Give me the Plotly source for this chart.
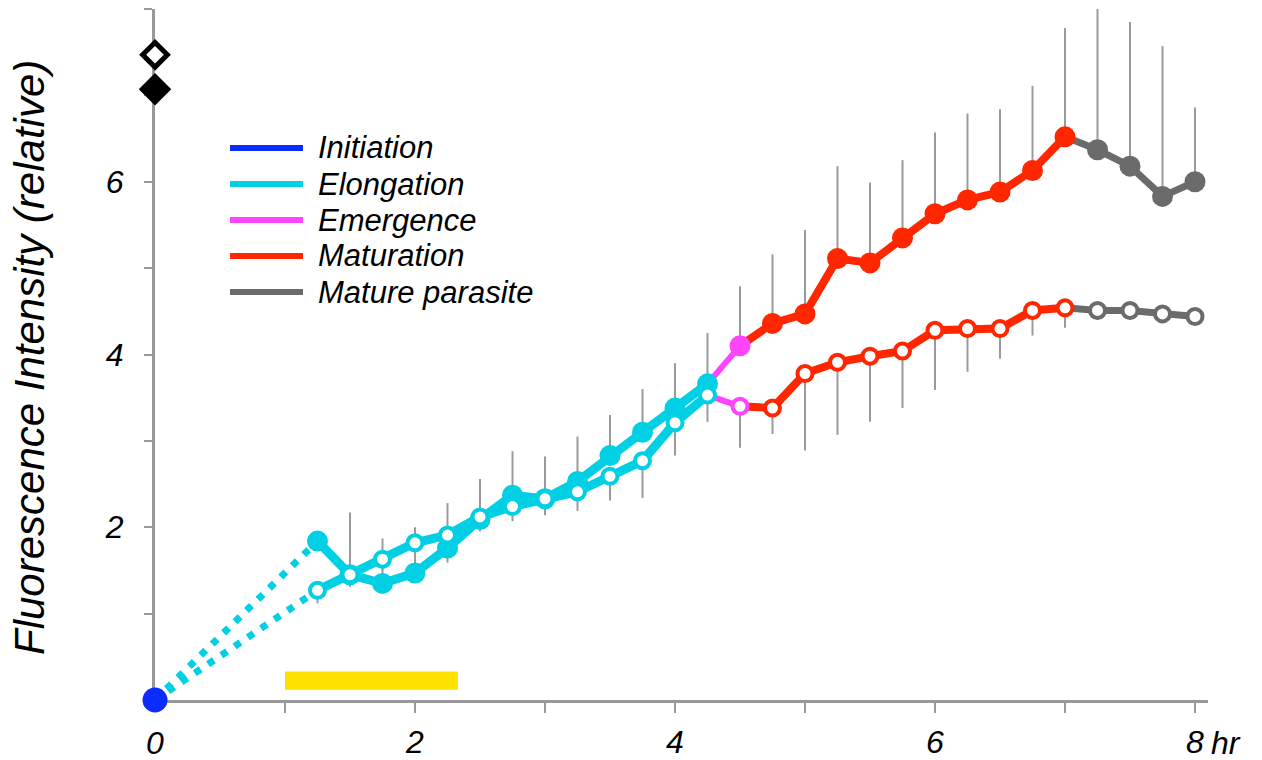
import plotly.graph_objects as go

# ---------------- data ----------------
times = [1.25, 1.5, 1.75, 2.0, 2.25, 2.5, 2.75, 3.0, 3.25, 3.5, 3.75, 4.0, 4.25,
         4.5, 4.75, 5.0, 5.25, 5.5, 5.75, 6.0, 6.25, 6.5, 6.75, 7.0,
         7.25, 7.5, 7.75, 8.0]
phases = ["Elongation"] * 13 + ["Emergence"] + ["Maturation"] * 10 + ["Mature parasite"] * 4

filled_vals = [1.84, 1.45, 1.35, 1.47, 1.76, 2.09, 2.37, 2.33, 2.53, 2.83, 3.10, 3.38, 3.66,
               4.10, 4.36, 4.47, 5.11, 5.06, 5.35, 5.63, 5.79, 5.88, 6.13, 6.52,
               6.37, 6.18, 5.83, 6.00]
filled_err_top = [1.84, 2.17, 1.87, 2.00, 2.28, 2.56, 2.88, 2.82, 3.05, 3.30, 3.60, 3.90, 4.25,
                  4.79, 5.16, 5.44, 6.18, 5.99, 6.25, 6.57, 6.79, 6.84, 7.11, 7.78,
                  8.01, 7.85, 7.57, 6.86]

open_vals = [1.27, 1.45, 1.63, 1.82, 1.91, 2.12, 2.24, 2.33, 2.41, 2.59, 2.77, 3.21, 3.53,
             3.40, 3.38, 3.78, 3.91, 3.98, 4.04, 4.28, 4.30, 4.30, 4.51, 4.54,
             4.51, 4.51, 4.47, 4.44]
open_err_bottom = [1.12, 1.31, 1.50, 1.65, 1.59, 1.95, 2.07, 2.14, 2.19, 2.31, 2.34, 2.83, 3.22,
                   2.92, 3.08, 2.89, 3.07, 3.22, 3.38, 3.59, 3.80, 3.95, 4.22, 4.31,
                   4.40, 4.40, 4.40, 4.40]

initiation_t = [0.0]
initiation_val = [0.0]

key_marker_y = [7.47, 7.07]   # open / filled diamond keys on the y axis
stim_start, stim_end = 1.0, 2.33
stim_low, stim_high = 0.12, 0.33

legend_names = ["Initiation", "Elongation", "Emergence", "Maturation", "Mature parasite"]
phase_colors = {
    "Initiation": "#0a2cff",
    "Elongation": "#00cfe4",
    "Emergence": "#ff44ff",
    "Maturation": "#ff2600",
    "Mature parasite": "#6b6b6b",
}
phase_width = {"Elongation": 9, "Emergence": 6, "Maturation": 8, "Mature parasite": 7}

x_tickvals = [1, 2, 3, 4, 5, 6, 7, 8]
x_ticktext = ["", "2", "", "4", "", "6", "", "8"]
y_tickvals = [1, 2, 3, 4, 5, 6, 7, 8]
y_ticktext = ["", "2", "", "4", "", "6", "", ""]

# ---------------- layout geometry ----------------
W, H = 1262, 760
ML, MR, MT, MB = 155, 54, 9, 60
PW, PH = W - ML - MR, H - MT - MB
FONT = "Liberation Sans, Arial, sans-serif"


def px_x(px):
    return (px - ML) / PW


def px_y(py):
    return (H - MB - py) / PH


fig = go.Figure()

# error bars (drawn first, beneath everything)
fig.add_trace(go.Scatter(
    x=times, y=filled_vals, mode="markers", marker=dict(size=1, opacity=0),
    error_y=dict(type="data", symmetric=False,
                 array=[t - v for t, v in zip(filled_err_top, filled_vals)],
                 arrayminus=[0] * len(times), color="#9a9a9a", thickness=2, width=0),
    showlegend=False, hoverinfo="skip", cliponaxis=False))
fig.add_trace(go.Scatter(
    x=times, y=open_vals, mode="markers", marker=dict(size=1, opacity=0),
    error_y=dict(type="data", symmetric=False,
                 array=[0] * len(times),
                 arrayminus=[v - b for v, b in zip(open_vals, open_err_bottom)],
                 color="#9a9a9a", thickness=2, width=0),
    showlegend=False, hoverinfo="skip", cliponaxis=False))

# dotted initiation -> first measurement
for vals in (filled_vals, open_vals):
    fig.add_trace(go.Scatter(
        x=[initiation_t[0], times[0]], y=[initiation_val[0], vals[0]], mode="lines",
        line=dict(color=phase_colors["Elongation"], width=7, dash="7px,9px"),
        showlegend=False, hoverinfo="skip", cliponaxis=False))


def add_series(vals, hollow):
    order = ["Elongation", "Emergence", "Maturation", "Mature parasite"]
    for ph in order:
        idx = [i for i, p in enumerate(phases) if p == ph]
        if idx[0] > 0:
            idx = [idx[0] - 1] + idx
        fig.add_trace(go.Scatter(
            x=[times[i] for i in idx], y=[vals[i] for i in idx], mode="lines",
            line=dict(color=phase_colors[ph], width=phase_width[ph]),
            showlegend=False, hoverinfo="skip", cliponaxis=False))
    for ph in order:
        idx = [i for i, p in enumerate(phases) if p == ph]
        if hollow:
            mk = dict(size=15, color="white", opacity=1,
                      line=dict(color=phase_colors[ph], width=4))
        else:
            mk = dict(size=21, color=phase_colors[ph], opacity=1, line=dict(width=0))
        fig.add_trace(go.Scatter(
            x=[times[i] for i in idx], y=[vals[i] for i in idx], mode="markers",
            marker=mk, showlegend=False, hoverinfo="skip", cliponaxis=False))


add_series(filled_vals, hollow=False)
add_series(open_vals, hollow=True)

# initiation point
fig.add_trace(go.Scatter(
    x=initiation_t, y=initiation_val, mode="markers",
    marker=dict(size=25, color=phase_colors["Initiation"], opacity=1),
    showlegend=False, hoverinfo="skip", cliponaxis=False))

# key diamonds on the y axis
fig.add_trace(go.Scatter(
    x=[0], y=[key_marker_y[0]], mode="markers",
    marker=dict(symbol="diamond", size=19, color="white", opacity=1,
                line=dict(color="black", width=5)),
    showlegend=False, hoverinfo="skip", cliponaxis=False))
fig.add_trace(go.Scatter(
    x=[0], y=[key_marker_y[1]], mode="markers",
    marker=dict(symbol="diamond", size=25, color="black", opacity=1,
                line=dict(width=0)),
    showlegend=False, hoverinfo="skip", cliponaxis=False))

# stimulus bar
fig.add_shape(type="rect", xref="x", yref="y", x0=stim_start, x1=stim_end,
              y0=stim_low, y1=stim_high, fillcolor="#ffe100", line=dict(width=0),
              layer="below")

# manual legend
leg_y = [148, 184, 220, 256, 292]
for name, py in zip(legend_names, leg_y):
    fig.add_shape(type="line", xref="paper", yref="paper",
                  x0=px_x(230), x1=px_x(303), y0=px_y(py), y1=px_y(py),
                  line=dict(color=phase_colors[name], width=6))
    fig.add_annotation(xref="paper", yref="paper", x=px_x(316), y=px_y(py),
                       text=name, showarrow=False, xanchor="left", yanchor="middle",
                       font=dict(family=FONT, size=31, color="black", style="italic"))

# axis title & unit
fig.add_annotation(xref="paper", yref="paper", x=px_x(30), y=px_y(358),
                   text="Fluorescence Intensity (relative)", textangle=-90,
                   showarrow=False, xanchor="center", yanchor="middle",
                   font=dict(family=FONT, size=42, color="black", style="italic"))
fig.add_annotation(xref="x", yref="paper", x=8, y=px_y(743),
                   text="hr", showarrow=False, xanchor="left", yanchor="middle", xshift=14,
                   font=dict(family=FONT, size=32, color="black", style="italic"))
fig.add_annotation(xref="x", yref="paper", x=0, y=px_y(743),
                   text="0", showarrow=False, xanchor="center", yanchor="middle",
                   font=dict(family=FONT, size=32, color="black", style="italic"))

fig.update_layout(
    width=W, height=H, margin=dict(l=ML, r=MR, t=MT, b=MB, autoexpand=False),
    plot_bgcolor="white", paper_bgcolor="white", showlegend=False,
    xaxis=dict(range=[0, 8.1], showgrid=False, zeroline=False, showline=True,
               linecolor="#999999", linewidth=3, ticks="outside", ticklen=10,
               tickwidth=2, tickcolor="#999999", tickvals=x_tickvals, ticktext=x_ticktext,
               ticklabelstandoff=2, automargin=False, layer="below traces",
               tickfont=dict(family=FONT, size=32, color="black", style="italic")),
    yaxis=dict(range=[0, 8.0], showgrid=False, zeroline=False, showline=True,
               linecolor="#999999", linewidth=3, ticks="outside", ticklen=8,
               tickwidth=2, tickcolor="#999999", tickvals=y_tickvals, ticktext=y_ticktext,
               ticklabelstandoff=14, automargin=False, layer="below traces",
               tickfont=dict(family=FONT, size=32, color="black", style="italic")),
)

fig.write_html("out.html", config={"displayModeBar": False},
               post_script="document.body.style.margin='0';")
